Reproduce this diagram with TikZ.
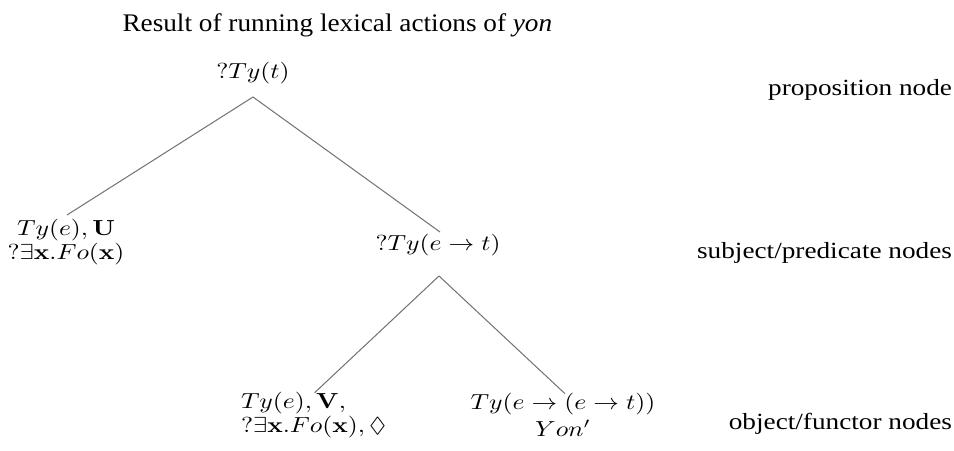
\documentclass[tikz,border=0pt]{standalone}
\usepackage[no-math]{fontspec}
\setmainfont{Liberation Serif}
\usepackage{amssymb}
\usepackage{graphicx}
\usetikzlibrary{calc}
\newcommand{\mq}[1]{\scalebox{1}[0.85]{$#1$}}
\newcommand{\tq}[2]{\scalebox{1}[#1]{#2}}
\renewcommand{\arraystretch}{0.7325}
\begin{document}
\begin{tikzpicture}[x=0.3906pt,y=-0.3906pt,
  treenode/.style={inner sep=0pt,outer sep=0pt,font=\fontsize{10}{12}\selectfont},
  lbl/.style={inner sep=0pt,outer sep=0pt,font=\fontsize{10.64}{12.8}\selectfont,anchor=base east},
  edge/.style={draw=black!55,line width=0.4pt}]
\useasboundingbox (0,0) rectangle (954,451);
\node[anchor=base west,inner sep=0pt,font=\fontsize{10.64}{12.8}\selectfont] (title) at (122,32)
  {\tq{0.93}{Result of running lexical actions of \textit{yon}}};
\node[treenode,anchor=base] (root) at (253,79) {\mq{?Ty(t)}};
\node[treenode,anchor=base] (subj) at (66,236)
  {\begin{tabular}[t]{@{}c@{}}\mq{Ty(e),\mathbf{U}}\\ \mq{?\exists\mathbf{x}.Fo(\mathbf{x})}\end{tabular}};
\node[treenode,anchor=base] (pred) at (438,251) {\mq{?Ty(e\rightarrow t)}};
\node[treenode,anchor=base west] (obj) at (241,409)
  {\begin{tabular}[t]{@{}l@{}}\mq{Ty(e),\mathbf{V},}\\ \mq{?\exists\mathbf{x}.Fo(\mathbf{x}),\Diamond}\end{tabular}};
\node[treenode,anchor=base] (fun) at (563,410)
  {\begin{tabular}[t]{@{}c@{}}\mq{Ty(e\rightarrow(e\rightarrow t))}\\[1.2pt] \mq{Yon'}\end{tabular}};
\node[lbl] (l1) at (952,96) {\tq{0.85}{proposition node}};
\node[lbl] (l2) at (952,259) {\tq{0.85}{subject/predicate nodes}};
\node[lbl] (l3) at (952,430) {\tq{0.85}{object/functor nodes}};
\coordinate (rootfoot) at ($(root.base)+(0,18)$);
\coordinate (predfoot) at ($(pred.base)+(1,25)$);
\draw[edge] (rootfoot) -- ($(subj.base)+(1,-21)$);
\draw[edge] (rootfoot) -- ($(pred.base)+(2,-19)$);
\draw[edge] (predfoot) -- ($(obj.north)+(1,0)$);
\draw[edge] (predfoot) -- ($(fun.north)+(2,0)$);
\end{tikzpicture}
\end{document}
